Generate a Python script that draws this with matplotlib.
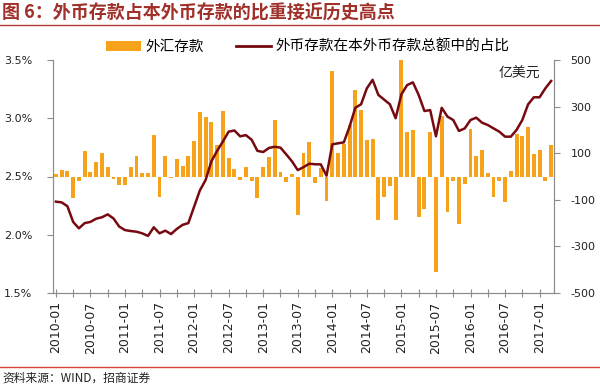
import numpy as np
import pandas as pd
import matplotlib
matplotlib.use("Agg")
import matplotlib.pyplot as plt
from matplotlib.patches import Patch
from matplotlib.lines import Line2D

# ------------------------------------------------------------------
# Data
# ------------------------------------------------------------------
months = pd.period_range("2010-01", "2017-03", freq="M").strftime("%Y-%m").tolist()

# 外汇存款 monthly change, 亿美元 (right axis)
fx_deposit_change = [
    10, 30, 22, -92, -20, 108, 20, 63, 101, 39, -10, -36,
    -36, 41, 88, 17, 17, 178, -90, 89, -5, 74, 47, 88,
    153, 276, 255, 234, 135, 281, 78, 31, -15, 42, -19, -94,
    42, 82, 242, 20, -22, 11, -166, 101, 148, -26, 35, -106,
    452, 103, 140, 220, 373, 285, 155, 161, -187, -88, -40, -187,
    500, 190, 200, -174, -138, 192, -412, 260, -151, -20, -203, -32,
    204, 89, 114, 14, -88, -19, -108, 24, 184, 175, 211, 98,
    115, -19, 135,
]

# 外币存款在本外币存款总额中的占比, % (left axis)
fx_share = [
    2.284, 2.278, 2.245, 2.11, 2.055, 2.10, 2.11, 2.138, 2.15, 2.175, 2.14, 2.07,
    2.04, 2.032, 2.026, 2.012, 1.99, 2.064, 2.012, 2.035, 2.006, 2.05, 2.085, 2.10,
    2.24, 2.38, 2.47, 2.63, 2.72, 2.80, 2.885, 2.895, 2.845, 2.855, 2.815, 2.72,
    2.71, 2.745, 2.755, 2.748, 2.69, 2.63, 2.555, 2.58, 2.61, 2.605, 2.604, 2.507,
    2.776, 2.785, 2.793, 2.928, 3.09, 3.12, 3.257, 3.33, 3.20, 3.16, 3.12, 3.00,
    3.205, 3.285, 3.308, 3.20, 3.062, 3.07, 2.845, 3.09, 3.014, 2.985, 2.891, 2.913,
    2.985, 3.005, 2.962, 2.942, 2.913, 2.885, 2.842, 2.842, 2.90, 2.985, 3.119, 3.18,
    3.18, 3.257, 3.32,
]

left_ticks = [1.5, 2.0, 2.5, 3.0, 3.5]
right_ticks = [-500, -300, -100, 100, 300, 500]

title = "图 6：外币存款占本外币存款的比重接近历史高点"
source = "资料来源：WIND，招商证券"
bar_label = "外汇存款"
line_label = "外币存款在本外币存款总额中的占比"
unit_label = "亿美元"

BAR_COLOR = "#F7A21B"
LINE_COLOR = "#760A10"
AXIS_COLOR = "#8C8C8C"
CJK = ["Noto Sans CJK SC", "DejaVu Sans"]

# ------------------------------------------------------------------
# Figure
# ------------------------------------------------------------------
W, H = 600, 388
fig = plt.figure(figsize=(W / 100, H / 100), dpi=100)
fig.patch.set_facecolor("white")

x = np.arange(len(months))
ax = fig.add_axes([53 / W, 1 - 293 / H, (554 - 53) / W, (293 - 60) / H])
ax2 = ax.twinx()

# bars on the right axis, behind the line
ax2.bar(x, fx_deposit_change, width=0.68, color=BAR_COLOR, zorder=2)
ax2.set_ylim(-500, 500)
ax2.set_yticks(right_ticks)
ax2.set_yticklabels([str(v) for v in right_ticks])

ax.plot(x, fx_share, color=LINE_COLOR, linewidth=1.8, zorder=3)
ax.set_ylim(1.5, 3.5)
ax.set_yticks(left_ticks)
ax.set_yticklabels([f"{v:.1f}%" for v in left_ticks])
ax.set_zorder(ax2.get_zorder() + 1)
ax.patch.set_visible(False)

ax.set_xlim(-0.5, len(months) - 0.5)
tick_pos = list(range(0, len(months), 3))
ax.set_xticks(tick_pos)
ax.set_xticklabels([months[i] if i % 6 == 0 else "" for i in tick_pos],
                   rotation=90, fontsize=9, color="#222222")

for a in (ax, ax2):
    a.spines["top"].set_visible(False)
    for side in ("left", "right", "bottom"):
        a.spines[side].set_color(AXIS_COLOR)
        a.spines[side].set_linewidth(0.8)
ax.tick_params(axis="x", direction="inout", length=6, color=AXIS_COLOR, pad=3)
ax.tick_params(axis="y", direction="out", length=4, color=AXIS_COLOR,
               labelsize=8, labelcolor="#222222", pad=11)
ax2.tick_params(axis="y", direction="out", length=4, color=AXIS_COLOR,
                labelsize=8, labelcolor="#222222", pad=8)

# title, rules, source
fig.text(2 / W, 1 - 13 / H, title, fontsize=13, color="#A0302A",
         fontweight="bold", family=CJK, va="center", ha="left")
fig.add_artist(Line2D([0, 1], [1 - 25 / H, 1 - 25 / H], color="#B23A32", linewidth=1.0))
fig.add_artist(Line2D([0, 1], [1 - 367 / H, 1 - 367 / H], color="#D9423A", linewidth=1.0))
fig.text(2 / W, 1 - 378 / H, source, fontsize=8.5, color="#222222",
         family=CJK, va="center", ha="left")

fig.text(519 / W, 1 - 74 / H, unit_label, fontsize=10, color="#222222",
         family=CJK, va="center", ha="center")

handles = [Patch(facecolor=BAR_COLOR, edgecolor="none"),
           Line2D([], [], color=LINE_COLOR, linewidth=2)]
fig.legend(handles, [bar_label, line_label], loc="center",
           bbox_to_anchor=(308 / W, 1 - 47 / H), ncol=2, frameon=False,
           prop={"family": CJK, "size": 10.5}, handlelength=2.4,
           handletextpad=0.3, columnspacing=2.2, borderaxespad=0)

fig.savefig("out.png", dpi=100)
